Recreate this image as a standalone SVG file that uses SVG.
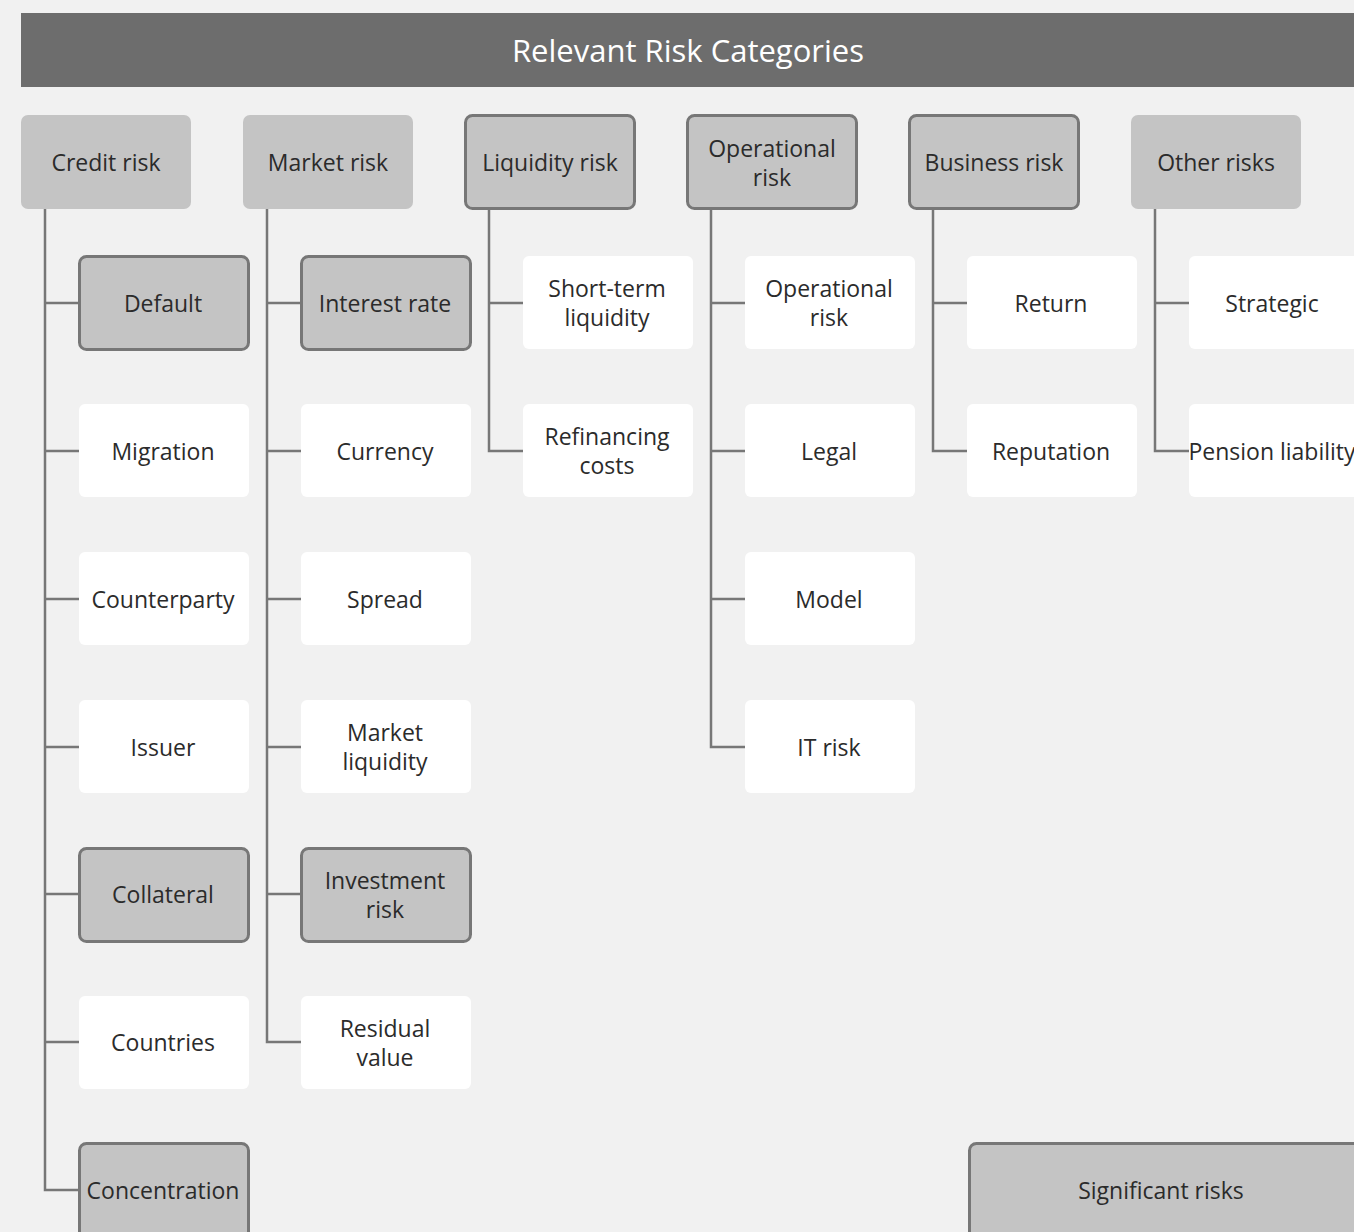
<svg xmlns="http://www.w3.org/2000/svg" width="1354" height="1232" viewBox="0 0 1354 1232">
<style>
text{font-family:"Open Sans","Noto Sans","DejaVu Sans",sans-serif;font-size:23px;fill:#2b2b2b;text-anchor:middle;dominant-baseline:central}
.hd{fill:#c4c4c4}
.sig{fill:#c4c4c4;stroke:#777;stroke-width:3}
.wh{fill:#ffffff}
.c path{fill:none;stroke:#777;stroke-width:2.5}
.title{fill:#fff;font-size:31px}
</style>
<rect x="0" y="0" width="1354" height="1232" fill="#f1f1f1"/>
<g id="title"><rect x="21" y="13" width="1340" height="74" fill="#6d6d6d"/><text class="title" x="688" y="50">Relevant Risk Categories</text></g>
<g class="c" id="connectors">
<path d="M45 209V1190H79M45 303H79M45 451H79M45 599H79M45 747H79M45 894H79M45 1042H79"/>
<path d="M267 209V1042H301M267 303H301M267 451H301M267 599H301M267 747H301M267 894H301"/>
<path d="M489 209V451H523M489 303H523"/>
<path d="M711 209V747H745M711 303H745M711 451H745M711 599H745"/>
<path d="M933 209V451H967M933 303H967"/>
<path d="M1155 209V451H1189M1155 303H1189"/>
</g>
<g id="credit-risk"><rect class="hd" x="21" y="115" width="170" height="94" rx="7"/><text x="106" y="162">Credit risk</text></g>
<g id="market-risk"><rect class="hd" x="243" y="115" width="170" height="94" rx="7"/><text x="328" y="162">Market risk</text></g>
<g id="liquidity-risk"><rect class="sig" x="465.5" y="115.5" width="169" height="93" rx="7"/><text x="550" y="162">Liquidity risk</text></g>
<g id="operational-risk-h"><rect class="sig" x="687.5" y="115.5" width="169" height="93" rx="7"/><text x="772" y="148">Operational</text><text x="772" y="177">risk</text></g>
<g id="business-risk"><rect class="sig" x="909.5" y="115.5" width="169" height="93" rx="7"/><text x="994" y="162">Business risk</text></g>
<g id="other-risks"><rect class="hd" x="1131" y="115" width="170" height="94" rx="7"/><text x="1216" y="162">Other risks</text></g>

<g id="default"><rect class="sig" x="79.5" y="256.5" width="169" height="93" rx="7"/><text x="163" y="303">Default</text></g>
<g id="migration"><rect class="wh" x="79" y="404" width="170" height="93" rx="6"/><text x="163" y="451">Migration</text></g>
<g id="counterparty"><rect class="wh" x="79" y="552" width="170" height="93" rx="6"/><text x="163" y="599">Counterparty</text></g>
<g id="issuer"><rect class="wh" x="79" y="700" width="170" height="93" rx="6"/><text x="163" y="747">Issuer</text></g>
<g id="collateral"><rect class="sig" x="79.5" y="848.5" width="169" height="93" rx="7"/><text x="163" y="894">Collateral</text></g>
<g id="countries"><rect class="wh" x="79" y="996" width="170" height="93" rx="6"/><text x="163" y="1042">Countries</text></g>
<g id="concentration"><rect class="sig" x="79.5" y="1143.5" width="169" height="100" rx="7"/><text x="163" y="1190">Concentration</text></g>

<g id="interest-rate"><rect class="sig" x="301.5" y="256.5" width="169" height="93" rx="7"/><text x="385" y="303">Interest rate</text></g>
<g id="currency"><rect class="wh" x="301" y="404" width="170" height="93" rx="6"/><text x="385" y="451">Currency</text></g>
<g id="spread"><rect class="wh" x="301" y="552" width="170" height="93" rx="6"/><text x="385" y="599">Spread</text></g>
<g id="market-liquidity"><rect class="wh" x="301" y="700" width="170" height="93" rx="6"/><text x="385" y="732">Market</text><text x="385" y="761">liquidity</text></g>
<g id="investment-risk"><rect class="sig" x="301.5" y="848.5" width="169" height="93" rx="7"/><text x="385" y="880">Investment</text><text x="385" y="909">risk</text></g>
<g id="residual-value"><rect class="wh" x="301" y="996" width="170" height="93" rx="6"/><text x="385" y="1028">Residual</text><text x="385" y="1057">value</text></g>

<g id="short-term-liquidity"><rect class="wh" x="523" y="256" width="170" height="93" rx="6"/><text x="607" y="288">Short-term</text><text x="607" y="317">liquidity</text></g>
<g id="refinancing-costs"><rect class="wh" x="523" y="404" width="170" height="93" rx="6"/><text x="607" y="436">Refinancing</text><text x="607" y="465">costs</text></g>

<g id="operational-risk"><rect class="wh" x="745" y="256" width="170" height="93" rx="6"/><text x="829" y="288">Operational</text><text x="829" y="317">risk</text></g>
<g id="legal"><rect class="wh" x="745" y="404" width="170" height="93" rx="6"/><text x="829" y="451">Legal</text></g>
<g id="model"><rect class="wh" x="745" y="552" width="170" height="93" rx="6"/><text x="829" y="599">Model</text></g>
<g id="it-risk"><rect class="wh" x="745" y="700" width="170" height="93" rx="6"/><text x="829" y="747">IT risk</text></g>

<g id="return"><rect class="wh" x="967" y="256" width="170" height="93" rx="6"/><text x="1051" y="303">Return</text></g>
<g id="reputation"><rect class="wh" x="967" y="404" width="170" height="93" rx="6"/><text x="1051" y="451">Reputation</text></g>

<g id="strategic"><rect class="wh" x="1189" y="256" width="170" height="93" rx="6"/><text x="1272" y="303">Strategic</text></g>
<g id="pension-liability"><rect class="wh" x="1189" y="404" width="170" height="93" rx="6"/><text x="1272" y="451">Pension liability</text></g>

<g id="significant-risks"><rect class="sig" x="969.5" y="1143.5" width="400" height="100" rx="7"/><text x="1161" y="1190">Significant risks</text></g>
</svg>
